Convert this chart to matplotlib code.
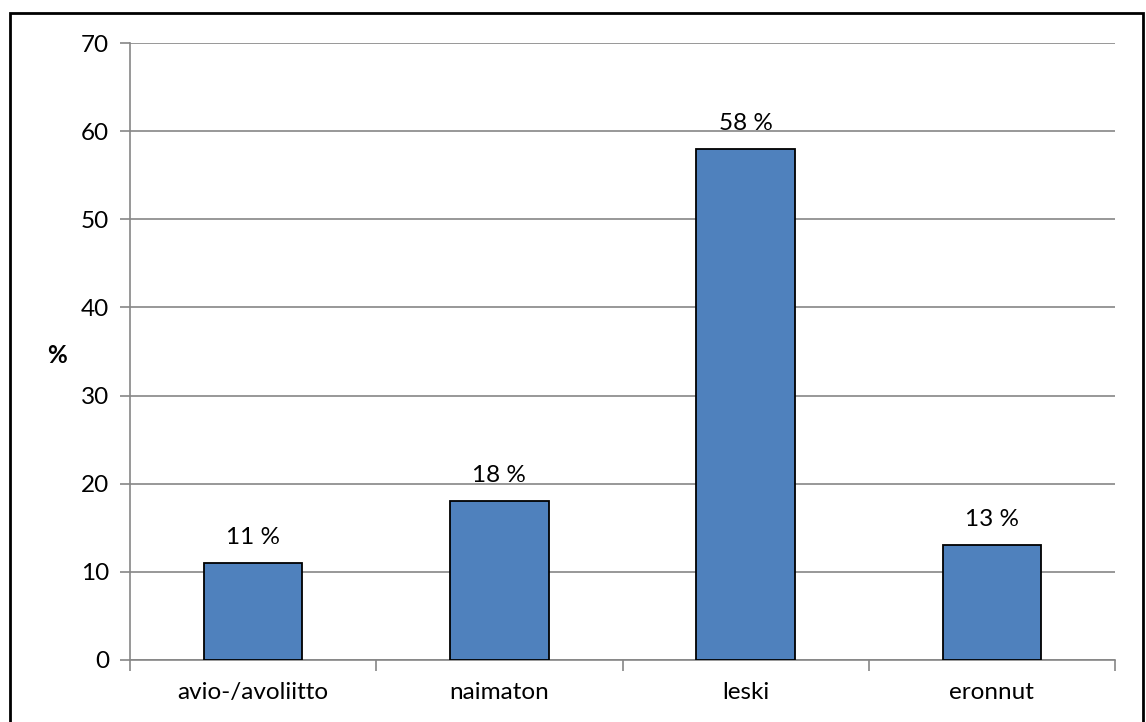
import matplotlib
matplotlib.use("Agg")
import matplotlib.pyplot as plt
from matplotlib.patches import Rectangle
import numpy as np

luokat = ["avio-/avoliitto", "naimaton", "leski", "eronnut"]
osuudet = [11, 18, 58, 13]
y_tikit = [0, 10, 20, 30, 40, 50, 60, 70]

plt.rcParams["font.family"] = ["Lato", "DejaVu Sans"]
koko = 17.5

fig = plt.figure(figsize=(11.46, 7.22), dpi=100)
ax = fig.add_axes([0.1134, 0.0859, 0.8596, 0.8545])

harmaa = "#868686"
x = np.arange(len(luokat))
palkit = ax.bar(x, osuudet, width=0.4, color="#4F81BD", edgecolor="black", linewidth=1.3, zorder=3)

for palkki, arvo in zip(palkit, osuudet):
    ax.annotate(f"{arvo} %", (palkki.get_x() + palkki.get_width() / 2, arvo),
                xytext=(0, 11), textcoords="offset points", ha="center", va="bottom", fontsize=koko)

ax.set_xlim(-0.5, len(luokat) - 0.5)
ax.set_ylim(0, 70)
ax.set_yticks(y_tikit)
ax.yaxis.grid(True, color=harmaa, linewidth=1.2, zorder=0)
ax.set_axisbelow(True)

ax.set_xticks(x)
ax.set_xticklabels(luokat, fontsize=koko)
ax.set_xticks(np.arange(len(luokat) + 1) - 0.5, minor=True)
ax.tick_params(axis="x", which="major", length=0, pad=16)
ax.tick_params(axis="x", which="minor", length=8, color=harmaa, width=1.2)
ax.tick_params(axis="y", length=7, color=harmaa, width=1.2, labelsize=koko, pad=8)

for puoli in ["top", "right"]:
    ax.spines[puoli].set_visible(False)
ax.spines["left"].set_color(harmaa)
ax.spines["bottom"].set_color(harmaa)
ax.spines["left"].set_linewidth(1.2)
ax.spines["bottom"].set_linewidth(1.2)

fig.text(57 / 1146, 1 - 355 / 722, "%", fontsize=koko, fontweight="bold", ha="center", va="center")

# musta kehys koko kuvan ympärillä
fig.patches.append(Rectangle((10 / 1146, -0.01), 1133 / 1146, 1.01 - 13 / 722,
                             transform=fig.transFigure, fill=False, edgecolor="black", linewidth=2))

fig.savefig("out.png", dpi=100)
